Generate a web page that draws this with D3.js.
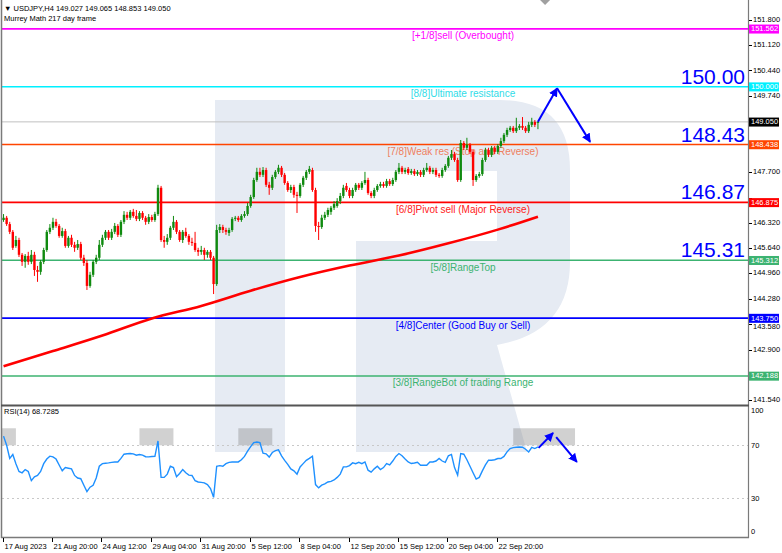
<!DOCTYPE html>
<html><head><meta charset="utf-8">
<script src="https://cdn.jsdelivr.net/npm/d3@7"></script>
<style>
body{margin:0;background:#fff;}
svg{display:block;font-family:"Liberation Sans",Arial,sans-serif;}
</style>
</head><body>
<svg id="c" width="782" height="553"></svg>
<script>
// ---------------- DATA ----------------
const opens = [146.40,146.46,146.29,146.08,145.70,145.86,145.46,145.27,145.43,145.27,145.46,145.05,145.00,145.27,145.59,146.08,146.19,146.35,146.24,145.97,146.10,145.70,145.92,145.73,145.65,145.75,145.38,145.24,144.62,144.92,145.27,145.38,145.73,145.92,146.08,145.92,146.08,146.24,146.00,146.35,146.54,146.46,146.62,146.51,146.43,146.59,146.46,146.35,146.48,146.40,146.56,147.27,145.86,145.81,145.92,146.19,146.35,146.08,145.86,146.08,145.97,145.81,145.78,145.59,145.54,145.59,145.46,145.54,145.38,144.67,146.13,146.21,146.13,146.05,146.13,146.43,146.46,146.40,146.51,146.56,146.78,147.02,147.48,147.70,147.62,147.75,147.35,147.27,147.56,147.70,147.81,147.62,147.40,147.21,147.29,147.08,147.05,147.35,147.54,147.70,147.75,147.21,146.24,146.21,146.46,146.54,146.62,146.73,146.78,146.91,147.05,147.32,147.21,147.05,147.21,147.35,147.27,147.40,147.48,147.13,147.05,147.21,147.32,147.37,147.32,147.45,147.37,147.48,147.70,147.81,147.70,147.78,147.67,147.72,147.64,147.70,147.62,147.75,147.81,147.70,147.75,147.62,147.59,147.75,147.86,148.08,148.18,148.02,147.48,148.48,148.35,148.43,148.24,147.48,147.59,147.64,148.02,148.29,148.16,148.35,148.24,148.40,148.53,148.70,148.83,148.89,148.80,148.89,148.94,148.89,148.80,148.97,149.05,149.027];
const highs = [146.56,146.51,146.35,146.13,145.97,145.92,145.51,145.48,145.54,145.59,145.54,145.16,145.32,145.65,146.13,146.29,146.46,146.43,146.29,146.19,146.16,145.97,146.00,145.81,145.86,145.81,145.46,145.32,145.00,145.32,145.46,145.86,146.00,146.13,146.13,146.16,146.32,146.29,146.40,146.64,146.62,146.67,146.70,146.67,146.64,146.64,146.51,146.56,146.54,146.62,147.35,147.32,145.97,146.02,146.24,146.51,146.40,146.13,146.13,146.19,146.02,145.92,146.08,145.65,145.70,145.65,145.59,145.59,145.43,146.27,146.29,146.27,146.19,146.19,146.48,146.51,146.51,146.56,146.64,146.86,147.08,147.54,147.81,147.81,147.83,147.81,147.43,147.62,147.75,147.89,147.86,147.67,147.45,147.35,147.35,147.16,147.40,147.59,147.75,147.86,147.81,147.27,146.35,146.54,146.62,146.73,146.78,146.91,146.99,147.13,147.35,147.40,147.27,147.27,147.40,147.40,147.45,147.70,147.54,147.18,147.27,147.37,147.43,147.43,147.51,147.51,147.54,147.75,147.94,147.86,147.81,147.83,147.78,147.78,147.75,147.75,147.81,147.94,147.86,147.81,147.81,147.67,147.81,147.91,148.13,148.29,148.24,148.08,148.56,148.53,148.62,148.48,148.29,147.64,147.70,148.08,148.35,148.35,148.40,148.40,148.45,148.62,148.75,148.89,148.94,148.94,149.16,148.99,149.18,148.94,149.05,149.16,149.10,149.065];
const lows = [146.35,146.24,146.02,145.59,145.65,145.40,145.16,145.11,145.19,145.21,144.89,144.73,144.92,145.21,145.54,146.02,146.13,146.19,145.92,145.92,145.65,145.65,145.67,145.54,145.59,145.32,145.16,144.51,144.57,144.86,145.21,145.32,145.67,145.86,145.86,145.86,146.02,145.94,145.94,146.29,146.40,146.40,146.46,146.37,146.37,146.40,146.27,146.29,146.35,146.35,146.51,145.81,145.65,145.73,145.86,146.13,146.02,145.81,145.78,145.92,145.73,145.70,145.54,145.43,145.46,145.32,145.38,145.32,144.40,144.62,146.05,146.05,146.00,145.97,146.08,146.37,146.35,146.35,146.46,146.51,146.73,146.97,147.43,147.56,147.56,147.29,147.08,147.21,147.51,147.64,147.56,147.35,147.16,147.13,147.00,146.59,147.00,147.29,147.48,147.64,147.16,146.08,145.86,146.16,146.40,146.48,146.54,146.67,146.73,146.83,146.99,147.16,146.99,146.99,147.16,147.21,147.21,147.35,147.08,146.99,146.99,147.16,147.27,147.27,147.27,147.32,147.32,147.43,147.64,147.64,147.64,147.62,147.62,147.59,147.59,147.56,147.56,147.70,147.64,147.64,147.56,147.54,147.54,147.70,147.81,148.02,147.97,147.43,147.43,148.29,148.29,148.18,147.32,147.43,147.54,147.59,147.97,148.10,148.10,148.18,148.18,148.35,148.48,148.64,148.78,148.75,148.75,148.83,148.83,148.75,148.75,148.91,148.91,148.853];
const closes = [146.46,146.29,146.08,145.65,145.86,145.46,145.27,145.43,145.27,145.46,145.05,145.00,145.27,145.59,146.08,146.19,146.35,146.24,145.97,146.10,145.70,145.92,145.73,145.65,145.75,145.38,145.24,144.62,144.92,145.27,145.38,145.73,145.92,146.08,145.92,146.08,146.24,146.00,146.35,146.54,146.46,146.62,146.51,146.43,146.59,146.46,146.35,146.48,146.40,146.56,147.27,145.86,145.81,145.92,146.19,146.35,146.08,145.86,146.08,145.97,145.81,145.78,145.59,145.54,145.59,145.46,145.54,145.38,144.67,146.13,146.21,146.13,146.08,146.13,146.43,146.46,146.40,146.51,146.56,146.78,147.02,147.48,147.70,147.62,147.75,147.35,147.27,147.56,147.70,147.81,147.62,147.40,147.21,147.29,147.08,147.05,147.35,147.54,147.70,147.78,147.21,146.24,146.21,146.46,146.54,146.67,146.73,146.83,146.91,147.05,147.27,147.21,147.05,147.21,147.35,147.27,147.40,147.48,147.13,147.05,147.21,147.32,147.37,147.32,147.45,147.37,147.48,147.70,147.81,147.70,147.75,147.67,147.72,147.64,147.70,147.62,147.75,147.81,147.70,147.75,147.62,147.59,147.75,147.86,148.08,148.18,148.02,147.48,148.48,148.35,148.43,148.24,147.48,147.59,147.64,148.02,148.29,148.16,148.35,148.24,148.40,148.53,148.70,148.83,148.89,148.80,148.89,148.94,148.89,148.80,148.97,149.05,148.97,149.050];
const rsiValues = [77,70,60,63,56,50,49,51.5,50,43,46,47,50,56,59.5,61.7,61.2,59.5,55,50.5,53,52.5,52,47,45,44.5,39.5,34.6,38,39.5,45,54,56,56.3,56.6,57,57.3,57.2,60,63.2,63.5,63.7,63.5,62.4,63,62.5,61.3,61.2,61.4,61.5,73.3,45.5,45.5,48,54,53,46,48.5,51.5,49,47.2,47,43,42,41.7,41.3,40,37,30.3,54,54.5,54,56,57,57.2,57.3,57.3,59,61.5,65.5,69,72,72.5,72,64,63.5,61,64.5,66,66.5,62,58.5,55.5,52,50.5,48,53.5,56,58.5,60,61.7,40,37.5,39.6,40.5,42,42.5,43.5,45.5,48,53.5,53.5,54.5,56.6,56,57,56,57.3,51,49.5,52,54,51.5,53,56,55,58,61.5,63.7,62,59.5,57.3,56.1,56.5,57,54.8,54.8,54.8,57.3,57.3,58,60,58,57,62,63,53,47.2,63.7,63.2,59,54,49,44.2,45.5,50.5,55,58.6,58.6,59,59.9,59.9,61.5,65,67.5,68.2,68.5,68.7,68.5,67,64.9,68.5,67.5,68.73];
const maBars = [0,16,32,48,64,80,96,112,128,144,160,173];
const maValues = [142.45,142.86,143.28,143.74,144.08,144.49,144.86,145.17,145.44,145.77,146.14,146.49];
const xTickBars = [0,16,32,48,64,80,96,112,128,144,160];
const xTickLabels = ["17 Aug 2023","21 Aug 20:00","24 Aug 12:00","29 Aug 04:00","31 Aug 20:00","5 Sep 12:00","8 Sep 04:00","12 Sep 20:00","15 Sep 12:00","20 Sep 04:00","22 Sep 20:00"];
const yTickValues = [151.800,151.120,150.440,149.740,149.060,148.380,147.700,147.000,146.320,145.640,144.960,144.280,143.580,142.900,142.220,141.540];
const rsiTickValues = [100,70,30,0];
const levelValues = [151.562,150.000,148.438,146.875,145.312,143.750,142.188];
const levelNames = ["[+1/8]sell (Overbought)","[8/8]Ultimate resistance","[7/8]Weak res (Stop and Reverse)","[6/8]Pivot sell (Major Reverse)","[5/8]RangeTop","[4/8]Center (Good Buy or Sell)","[3/8]RangeBot of trading Range"];
const bigLevelValues = [150.000,148.438,146.875,145.312];
const bigLevelLabels = ["150.00","148.43","146.87","145.31"];
const lastPrice = 149.050;
const obZoneStart = [-1,44,76,165];
const obZoneEnd = [4,55,87,185];
const obZoneRsi = [70,83];
const fcBars = [173,179.2,189.9];
const fcPrices = [149.05,149.96,148.51];
const fcRsiBars = [173.2,177.9,178.9,185.6];
const fcRsiValues = [68.0,79.4,76.3,57.3];
const shiftBar = 175.3;

// ---------------- STYLE ----------------
const levelColors = ["#ff00ff","#00f0ff","#ff4500","#ff0000","#3cb371","#0000ff","#3cb371"];
const levelTextColors = ["#ff00ff","#30dce8","#ee8060","#ff2020","#3cb371","#0000ff","#3cb371"];
const bullColor = "#0f8a0f", bearColor = "#ff0000";

// ---------------- LAYOUT ----------------
const Lx = 2, Rx = 748, Ty = 2, MBy = 405, RTy = 406, RBy = 537;
const svg = d3.select("#c");
const x = d3.scaleLinear().domain([-0.5, 241]).range([Lx, Rx]);
const y = d3.scaleLinear().domain([141.404, 152.287]).range([MBy, Ty]);
const yr = d3.scaleLinear().domain([0, 100]).range([RBy, RTy]);

const defs = svg.append("defs");
defs.append("clipPath").attr("id","clipMain").append("rect").attr("x",Lx).attr("y",Ty).attr("width",Rx-Lx).attr("height",MBy-Ty);
defs.append("clipPath").attr("id","clipRsi").append("rect").attr("x",Lx).attr("y",RTy).attr("width",Rx-Lx).attr("height",RBy-RTy);
defs.append("marker").attr("id","arr").attr("viewBox","0 0 10 10").attr("refX",9).attr("refY",5)
  .attr("markerWidth",4.5).attr("markerHeight",4.5).attr("orient","auto-start-reverse").attr("markerUnits","strokeWidth")
  .append("path").attr("d","M0,0 L10,5 L0,10 Z").attr("fill","#0000ff");

svg.append("rect").attr("width",782).attr("height",553).attr("fill","#fff");

// watermark
svg.append("path")
  .attr("d","M215,100 H500 Q570,100 570,170 V262 Q570,332 497,345 L527,452 H356 V241 H497 V171 H285 V452 H215 Z")
  .attr("fill","#e6ebf3");

// RSI panel backgrounds
const gR = svg.append("g").attr("clip-path","url(#clipRsi)");
gR.selectAll("rect.ob").data(d3.range(obZoneStart.length)).join("rect")
  .attr("x", i => x(obZoneStart[i])).attr("width", i => x(obZoneEnd[i]) - x(obZoneStart[i]))
  .attr("y", yr(obZoneRsi[1])).attr("height", yr(obZoneRsi[0]) - yr(obZoneRsi[1]))
  .attr("fill","rgba(128,128,128,0.36)");
gR.selectAll("line.lv").data([70,30]).join("line")
  .attr("x1",Lx).attr("x2",Rx).attr("y1",d=>Math.round(yr(d))+0.5).attr("y2",d=>Math.round(yr(d))+0.5)
  .attr("stroke","#c8c8c8").attr("stroke-dasharray","2,3");

// main panel
const gM = svg.append("g").attr("clip-path","url(#clipMain)");
gM.append("line").attr("x1",Lx).attr("x2",Rx).attr("y1",y(lastPrice)).attr("y2",y(lastPrice))
  .attr("stroke","#c0c0c0").attr("stroke-width",1);
gM.selectAll("line.level").data(levelValues).join("line")
  .attr("x1",Lx).attr("x2",Rx).attr("y1",d=>y(d)).attr("y2",d=>y(d))
  .attr("stroke",(d,i)=>levelColors[i]).attr("stroke-width",1.6);
gM.selectAll("text.lname").data(levelValues).join("text")
  .attr("x",463).attr("y",d=>y(d)+10.5).attr("text-anchor","middle")
  .attr("font-size","10px").attr("fill",(d,i)=>levelTextColors[i]).text((d,i)=>levelNames[i]);

// moving average
gM.append("path").datum(d3.range(maBars.length))
  .attr("d", d3.line().x(i=>x(maBars[i])).y(i=>y(maValues[i])).curve(d3.curveMonotoneX))
  .attr("fill","none").attr("stroke","#ff0000").attr("stroke-width",2.6);

// candles
const idx = d3.range(closes.length);
const col = i => closes[i] >= opens[i] ? bullColor : bearColor;
gM.selectAll("line.wick").data(idx).join("line")
  .attr("x1",i=>x(i)).attr("x2",i=>x(i)).attr("y1",i=>y(highs[i])).attr("y2",i=>y(lows[i]))
  .attr("stroke",col).attr("stroke-width",1);
gM.selectAll("rect.body").data(idx).join("rect")
  .attr("x",i=>x(i)-1.2).attr("width",2.4)
  .attr("y",i=>y(Math.max(opens[i],closes[i])))
  .attr("height",i=>Math.max(1,Math.abs(y(opens[i])-y(closes[i]))))
  .attr("fill",col);

// big level labels
gM.selectAll("text.big").data(bigLevelValues).join("text")
  .attr("x",745).attr("y",d=>y(d)-3).attr("text-anchor","end")
  .attr("font-size","21px").attr("fill","#0000ff").text((d,i)=>bigLevelLabels[i]);

// forecast arrows (main)
for (let k=0;k<fcBars.length-1;k++){
  svg.append("line").attr("x1",x(fcBars[k])).attr("y1",y(fcPrices[k]))
    .attr("x2",x(fcBars[k+1])).attr("y2",y(fcPrices[k+1]))
    .attr("stroke","#0000ff").attr("stroke-width",2).attr("marker-end","url(#arr)");
}

// RSI line
gR.append("path").datum(idx)
  .attr("d", d3.line().x(i=>x(i)).y(i=>yr(rsiValues[i])))
  .attr("fill","none").attr("stroke","#1e90ff").attr("stroke-width",1.4);
for (let k=0;k<fcRsiBars.length;k+=2){
  svg.append("line").attr("x1",x(fcRsiBars[k])).attr("y1",yr(fcRsiValues[k]))
    .attr("x2",x(fcRsiBars[k+1])).attr("y2",yr(fcRsiValues[k+1]))
    .attr("stroke","#0000ff").attr("stroke-width",2).attr("marker-end","url(#arr)");
}

// frame
const frame = "#7a7a7a";
svg.append("line").attr("x1",Lx-0.5).attr("x2",Lx-0.5).attr("y1",0).attr("y2",RBy+1).attr("stroke",frame).attr("stroke-width",1.5);
svg.append("line").attr("x1",Rx+0.5).attr("x2",Rx+0.5).attr("y1",0).attr("y2",RBy+1).attr("stroke",frame).attr("stroke-width",1.2);
svg.append("line").attr("x1",Lx-1).attr("x2",Rx+1).attr("y1",MBy+0.5).attr("y2",MBy+0.5).attr("stroke","#555").attr("stroke-width",2);
svg.append("line").attr("x1",Lx-1).attr("x2",Rx+1).attr("y1",RBy+0.5).attr("y2",RBy+0.5).attr("stroke",frame).attr("stroke-width",1.5);
// shift marker
svg.append("path").attr("d",`M${x(shiftBar)-5},0 L${x(shiftBar)+5},0 L${x(shiftBar)},5 Z`).attr("fill","#a0a0a0");

// level tags (price tags on the axis)
const tags = levelValues.map((v,i)=>({v, c:levelColors[i]})).concat([{v:lastPrice,c:"#000"}]);

// price axis (labels hidden where a tag covers them, nudged when close to one)
const visibleTicks = yTickValues.filter(v => tags.every(t => Math.abs(y(v) - y(t.v)) > 6));
const labelY = v => {
  let py = y(v) - 0.5;
  tags.forEach(t => { const d = py - y(t.v); if (Math.abs(d) < 8.6) py = y(t.v) + Math.sign(d) * 8.6; });
  return py;
};
const axT = svg.append("g").attr("font-size","7.5px").attr("fill","#000");
axT.selectAll("line").data(yTickValues).join("line")
  .attr("x1",Rx+1).attr("x2",Rx+4).attr("y1",d=>Math.round(y(d))+0.5).attr("y2",d=>Math.round(y(d))+0.5).attr("stroke","#000");
axT.selectAll("text").data(visibleTicks).join("text")
  .attr("x",Rx+5).attr("y",d=>labelY(d)).attr("dy","0.35em").text(d=>d.toFixed(3));

const gT = svg.append("g");
gT.selectAll("rect").data(tags).join("rect")
  .attr("x",Rx+1).attr("width",30).attr("y",d=>y(d.v)-4.3).attr("height",9).attr("fill",d=>d.c);
gT.selectAll("text").data(tags).join("text")
  .attr("x",Rx+3).attr("y",d=>y(d.v)).attr("dy","0.33em").attr("font-size","7.5px").attr("fill","#fff")
  .text(d=>d.v.toFixed(3));

// RSI axis
svg.append("g").selectAll("text").data(rsiTickValues).join("text")
  .attr("x",Rx+3).attr("y",d=> d===100 ? yr(d)+7 : (d===0 ? yr(d)-3 : yr(d)+3))
  .attr("font-size","7.5px").attr("fill","#000").text(d=>d);

// time axis
const gX = svg.append("g");
gX.selectAll("line").data(xTickBars).join("line")
  .attr("x1",i=>Math.round(x(i))-0.5).attr("x2",i=>Math.round(x(i))-0.5).attr("y1",RBy+1).attr("y2",RBy+5).attr("stroke","#000");
gX.selectAll("text").data(xTickBars).join("text")
  .attr("x",i=>Math.round(x(i))+0.5).attr("y",RBy+12).attr("font-size","7.5px").attr("fill","#000")
  .text((d,i)=>xTickLabels[i]);

// header texts
svg.append("text").attr("x",4).attr("y",11).attr("font-size","7.5px").attr("fill","#000")
  .text("\u25BC USDJPY,H4  149.027 149.065 148.853 149.050");
svg.append("text").attr("x",4).attr("y",21).attr("font-size","7.5px").attr("fill","#000")
  .text("Murrey Math 217 day frame");
svg.append("text").attr("x",4).attr("y",RTy+8).attr("font-size","7.5px").attr("fill","#000")
  .text("RSI(14) 68.7285");
</script>
</body></html>
